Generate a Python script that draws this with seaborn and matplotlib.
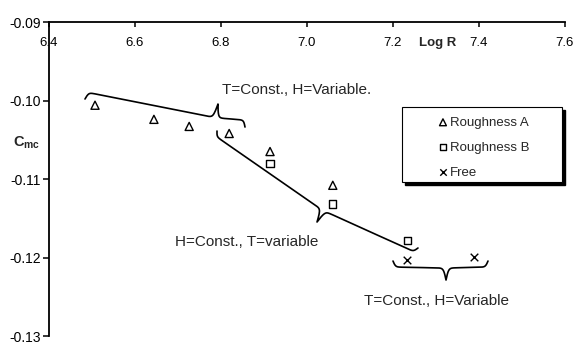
import numpy as np
import pandas as pd
import matplotlib
matplotlib.use("Agg")
import matplotlib.pyplot as plt
import seaborn as sns
from matplotlib.patches import Rectangle

# ---------------- data ----------------
rough_a_logr = [6.507, 6.644, 6.726, 6.819, 6.914, 7.060]
rough_a_cmc = [-0.1006, -0.1024, -0.1033, -0.1042, -0.1065, -0.1108]
rough_b_logr = [6.914, 7.060, 7.233]
rough_b_cmc = [-0.1080, -0.1132, -0.1178]
free_logr = [7.233, 7.388]
free_cmc = [-0.1203, -0.1199]

series_names = ["Roughness A", "Roughness B", "Free"]
x_ticks = [6.4, 6.6, 6.8, 7.0, 7.2, 7.4, 7.6]
x_tick_labels = ["6.4", "6.6", "6.8", "7.0", "7.2", "7.4", "7.6"]
y_ticks = [-0.13, -0.12, -0.11, -0.10, -0.09]
y_tick_labels = ["-0.13", "-0.12", "-0.11", "-0.10", "-0.09"]

annot_texts = ["T=Const., H=Variable.", "H=Const., T=variable", "T=Const., H=Variable"]
annot_pos = [(6.802, -0.09866), (6.693, -0.11803), (7.1326, -0.12554)]

# braces: (start, tip, end) in data coords
braces = [
    ((6.4837, -0.09981), (6.793, -0.10045), (6.8558, -0.10338)),
    ((6.7907, -0.10389), (7.0233, -0.11548), (7.2581, -0.11879)),
    ((7.2000, -0.12045), (7.3233, -0.12287), (7.4209, -0.12045)),
]

# ---------------- style ----------------
sns.set_style("white")
plt.rcParams["font.family"] = ["Liberation Sans", "DejaVu Sans"]
plt.rcParams["mathtext.fontset"] = "custom"
plt.rcParams["mathtext.rm"] = "Liberation Sans"
plt.rcParams["mathtext.bf"] = "Liberation Sans:bold"
plt.rcParams["mathtext.it"] = "Liberation Sans:italic"

fig = plt.figure(figsize=(5.73, 3.43), dpi=100)
W, H = 573, 343
ax = fig.add_axes([49 / W, 7 / H, 516 / W, 314 / H])
ax.set_xlim(6.4, 7.6)
ax.set_ylim(-0.13, -0.09)

df_a = pd.DataFrame({"logR": rough_a_logr, "Cmc": rough_a_cmc})
df_b = pd.DataFrame({"logR": rough_b_logr, "Cmc": rough_b_cmc})
df_f = pd.DataFrame({"logR": free_logr, "Cmc": free_cmc})

sns.scatterplot(data=df_a, x="logR", y="Cmc", marker="^", s=34, facecolors="none",
                edgecolor="k", linewidth=1.0, label=series_names[0], ax=ax, legend=False)
sns.scatterplot(data=df_b, x="logR", y="Cmc", marker="s", s=28, facecolors="none",
                edgecolor="k", linewidth=1.0, label=series_names[1], ax=ax, legend=False)
sns.scatterplot(data=df_f, x="logR", y="Cmc", marker="x", s=30, color="k",
                linewidth=1.0, label=series_names[2], ax=ax, legend=False)

ax.set_xlabel("")
ax.set_ylabel("")

# spines
for side in ["bottom", "right"]:
    ax.spines[side].set_visible(False)
for side in ["top", "left"]:
    ax.spines[side].set_visible(True)
    ax.spines[side].set_linewidth(1.3)
    ax.spines[side].set_color("black")

ax.set_xticks(x_ticks)
ax.set_xticklabels(x_tick_labels)
ax.set_yticks(y_ticks)
ax.set_yticklabels(y_tick_labels)
ax.tick_params(axis="x", top=True, bottom=False, labeltop=True, labelbottom=False,
               direction="in", length=3.5, width=1.1, pad=-19.8, labelsize=9.5, colors="black")
ax.tick_params(axis="y", left=True, right=False, direction="out", length=4.5, width=1.1,
               pad=1.5, labelsize=10, colors="black")
ax.grid(False)

# axis labels
ax.text((438 - 49) / 516, (336 - 43) / 314, "Log R", transform=ax.transAxes,
        ha="center", va="center", fontsize=9.5, fontweight="bold")
ax.text((13 - 49) / 516, (336 - 147) / 314, r"$\mathbf{C}_{\mathbf{mc}}$",
        transform=ax.transAxes, ha="left", va="baseline", fontsize=10.5)

# annotations
for txt, (xx, yy) in zip(annot_texts, annot_pos):
    ax.text(xx, yy, txt, ha="left", va="center", fontsize=11)


def draw_brace(ax, start, tip, end, normal, a, b, beta=0.4):
    to_disp = ax.transData.transform
    inv = ax.transData.inverted().transform
    n = np.asarray(normal, float)
    n = n / np.linalg.norm(n)
    T = to_disp(tip)
    Tp = T - n * (a + b)
    parts = []
    for E, rev in ((to_disp(start), False), (to_disp(end), True)):
        d = Tp - E
        L = np.hypot(*d)
        u = d / L
        x = np.linspace(0, L, 300)
        off = a * np.tanh(beta * x) + b * (1 + np.tanh(beta * (x - L)))
        pts = E + np.outer(x, u) + np.outer(off, n)
        if rev:
            pts = pts[::-1]
        parts.append(pts)
    pts = np.vstack(parts)
    data = inv(pts)
    ax.plot(data[:, 0], data[:, 1], color="k", lw=1.2, solid_capstyle="round",
            solid_joinstyle="round")


brace_normals = [(0.172, 0.985), (-0.45, -0.89), (0.0, -1.0)]
brace_ab = [(7, 14), (5, 13), (6, 12)]
for (s0, tp, e1), nrm, (aa, bb) in zip(braces, brace_normals, brace_ab):
    draw_brace(ax, s0, tp, e1, nrm, aa, bb)

# legend frame with shadow
bx0, bw = (402 - 49) / 516, 160 / 516
by0, bh = (336 - 182) / 314, 75 / 314
ax.add_patch(Rectangle((bx0 + 3 / 516, by0 - 3 / 314), bw, bh, transform=ax.transAxes,
                       facecolor="black", edgecolor="black", zorder=3.9, clip_on=False))
ax.add_patch(Rectangle((bx0, by0), bw, bh, transform=ax.transAxes,
                       facecolor="white", edgecolor="black", linewidth=0.8, zorder=4,
                       clip_on=False))

handles, labels = ax.get_legend_handles_labels()
leg = ax.legend(handles, labels, loc="upper left",
                bbox_to_anchor=((439 - 49) / 516, (336 - 116.5) / 314),
                frameon=False, borderpad=0, borderaxespad=0, handlelength=0.6,
                handletextpad=0.23, labelspacing=0.96, fontsize=9.5, markerscale=0.85)
leg.set_zorder(5)

fig.savefig("out.png", dpi=100)
